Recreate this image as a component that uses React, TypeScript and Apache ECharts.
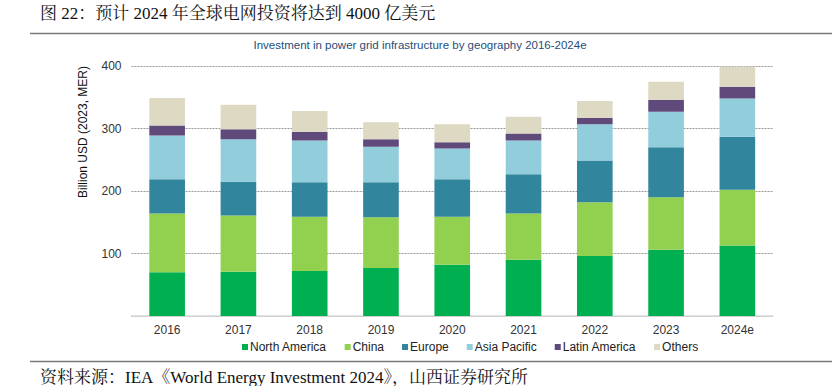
import React, { useEffect, useRef } from "react";
import * as echarts from "echarts";

const categories = ["2016", "2017", "2018", "2019", "2020", "2021", "2022", "2023", "2024e"];
const northAmerica = [70, 71, 72, 77, 82, 90, 96, 106, 113];
const china = [94, 90, 87, 81, 77, 74, 86, 84, 89];
const europe = [55, 54, 55, 56, 60, 63, 67, 80, 85];
const asiaPacific = [70, 68, 67, 57, 49, 54, 58, 57, 61];
const latinAmerica = [16, 16, 14, 12, 10, 11, 10, 19, 19];
const others = [44, 39, 33, 27, 29, 27, 27, 29, 32];
const yTicks = [0, 100, 200, 300, 400];

const seriesDefs = [
  { name: "North America", data: northAmerica, color: "#00b050" },
  { name: "China", data: china, color: "#92d050" },
  { name: "Europe", data: europe, color: "#31859c" },
  { name: "Asia Pacific", data: asiaPacific, color: "#92cddc" },
  { name: "Latin America", data: latinAmerica, color: "#604a7b" },
  { name: "Others", data: others, color: "#ddd9c3" },
];

export default function App() {
  const ref = useRef<HTMLDivElement>(null);
  useEffect(() => {
    if (!ref.current) return;
    const chart = echarts.init(ref.current, undefined, { renderer: "svg" });
    const serifFont = "'Liberation Serif', 'Noto Serif CJK SC', 'Noto Sans CJK SC', serif";
    const sansFont = "'Liberation Sans', Arial, sans-serif";
    chart.setOption({
      animation: false,
      backgroundColor: "#ffffff",
      textStyle: { fontFamily: sansFont },
      grid: { left: 131.5, right: 66, top: 66, bottom: 70, containLabel: false },
      legend: {
        data: seriesDefs.map((s) => s.name),
        left: 237,
        top: 336,
        icon: "rect",
        itemWidth: 6,
        itemHeight: 6,
        itemGap: 18,
        textStyle: { fontSize: 12, color: "#222", fontFamily: sansFont, padding: [0, 0, 0, -3] },
      },
      xAxis: {
        type: "category",
        data: categories,
        axisLine: { show: true, lineStyle: { color: "#d9d9d9", width: 1.5 } },
        axisTick: { show: false },
        axisLabel: { fontSize: 12, color: "#333", margin: 8, fontFamily: sansFont },
      },
      yAxis: {
        type: "value",
        min: yTicks[0],
        max: yTicks[yTicks.length - 1],
        interval: 100,
        axisLine: { show: false },
        axisTick: { show: false },
        axisLabel: {
          fontSize: 12,
          color: "#333",
          margin: 10,
          formatter: (v: number) => (v === 0 ? "" : String(v)),
        },
        splitLine: { show: true, lineStyle: { color: "#999", type: [2, 1], width: 1 } },
      },
      graphic: [
        {
          type: "text",
          left: 40,
          top: 5,
          style: {
            text: "图 22：预计 2024 年全球电网投资将达到 4000 亿美元",
            fontSize: 17,
            fontFamily: serifFont,
            fill: "#111",
          },
        },
        {
          type: "line",
          shape: { x1: 30, y1: 33.5, x2: 832, y2: 33.5 },
          style: { stroke: "#777", lineWidth: 1.5 },
        },
        {
          type: "text",
          x: 420,
          y: 45,
          style: {
            text: "Investment in power grid infrastructure by geography 2016-2024e",
            fontSize: 11.5,
            fontFamily: sansFont,
            fill: "#1f4e79",
            align: "center",
            verticalAlign: "middle",
          },
        },
        {
          type: "text",
          x: 83,
          y: 132,
          rotation: Math.PI / 2,
          style: {
            text: "Billion USD (2023, MER)",
            fontSize: 12,
            fontFamily: sansFont,
            fill: "#111",
            align: "center",
            verticalAlign: "middle",
          },
        },
        {
          type: "line",
          shape: { x1: 30, y1: 361.5, x2: 832, y2: 361.5 },
          style: { stroke: "#777", lineWidth: 1.5 },
        },
        {
          type: "text",
          left: 40,
          top: 369,
          style: {
            text: "资料来源：IEA《World Energy Investment 2024》，山西证券研究所",
            fontSize: 17,
            fontFamily: serifFont,
            fill: "#111",
          },
        },
      ],
      series: seriesDefs.map((s) => ({
        name: s.name,
        type: "bar",
        stack: "total",
        data: s.data,
        barWidth: "50%",
        itemStyle: { color: s.color },
        emphasis: { disabled: true },
      })),
    });
    return () => chart.dispose();
  }, []);
  return (
    <div
      ref={ref}
      style={{ position: "fixed", left: 0, top: 0, width: 839, height: 386, background: "#fff" }}
    />
  );
}
